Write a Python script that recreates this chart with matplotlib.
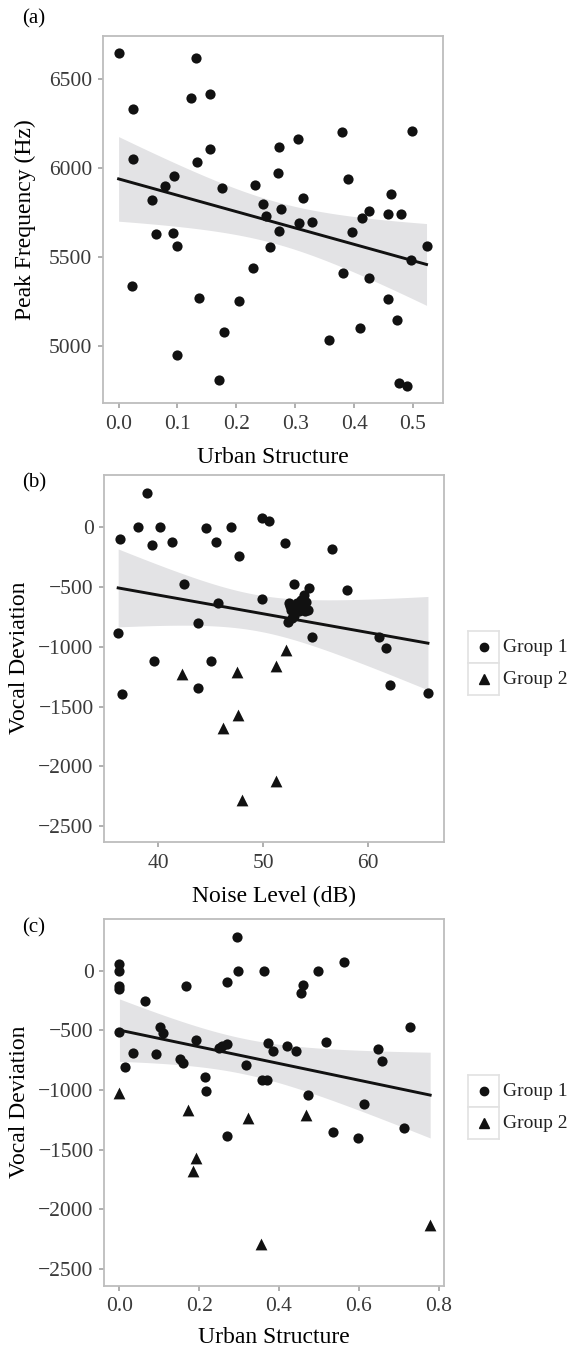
import numpy as np
import matplotlib
matplotlib.use('Agg')
import matplotlib.pyplot as plt

# ---- panel (a): urban structure vs peak frequency ----
urban_a = [0.000, 0.132, 0.024, 0.123, 0.155, 0.024, 0.155, 0.134, 0.094, 0.079,
           0.057, 0.176, 0.064, 0.093, 0.100, 0.022, 0.137, 0.099, 0.170, 0.179,
           0.205, 0.229, 0.232, 0.246, 0.250, 0.258, 0.272, 0.270, 0.276, 0.273,
           0.304, 0.307, 0.313, 0.328, 0.357, 0.379, 0.381, 0.389, 0.397, 0.413,
           0.425, 0.410, 0.425, 0.457, 0.463, 0.480, 0.458, 0.473, 0.477, 0.490,
           0.499, 0.496, 0.523]
peak_a = [6643, 6617, 6332, 6392, 6416, 6051, 6107, 6034, 5956, 5898,
          5818, 5885, 5628, 5632, 5559, 5335, 5270, 4951, 4811, 5078,
          5255, 5440, 5902, 5797, 5730, 5555, 6118, 5971, 5770, 5646,
          6163, 5693, 5831, 5695, 5035, 6204, 5410, 5939, 5639, 5719,
          5756, 5099, 5382, 5740, 5851, 5742, 5266, 5145, 4791, 4776,
          6206, 5484, 5559]

# ---- panel (b): noise level vs vocal deviation ----
noise_g1 = [38.96, 36.4, 38.1, 39.45, 40.2, 41.3, 44.6, 45.5, 46.9, 47.7,
            49.9, 50.55, 52.1, 56.6, 42.5, 45.7, 49.9, 52.9, 54.4, 58.0,
            36.2, 43.8, 45.0, 39.65, 36.6, 43.8, 54.7, 61.0, 61.7, 62.1,
            65.7, 53.9, 54.1, 53.9, 52.5, 52.7, 52.9, 52.35, 54.3, 52.6,
            53.4, 53.6, 52.8, 54.0, 53.2]
devb_g1 = [278, -100, 0, -153, 0, -125, -11, -128, 0, -247,
           69, 50, -133, -189, -475, -633, -603, -478, -514, -531,
           -889, -806, -1117, -1119, -1397, -1347, -917, -917, -1011, -1319,
           -1389, -569, -625, -667, -639, -694, -744, -792, -694, -660,
           -700, -610, -760, -700, -640]
noise_g2 = [42.3, 47.5, 51.2, 52.2, 47.6, 46.2, 51.2, 48.0]
devb_g2 = [-1228, -1208, -1158, -1031, -1569, -1681, -2125, -2281]

# ---- panel (c): urban structure vs vocal deviation ----
urban_g1 = [0.000, 0.000, 0.000, 0.000, 0.000, 0.015, 0.035, 0.063, 0.091, 0.102,
            0.110, 0.153, 0.160, 0.167, 0.192, 0.215, 0.216, 0.249, 0.258, 0.270,
            0.270, 0.295, 0.297, 0.318, 0.270, 0.358, 0.370, 0.362, 0.373, 0.386,
            0.419, 0.443, 0.460, 0.456, 0.473, 0.498, 0.518, 0.562, 0.536, 0.599,
            0.613, 0.649, 0.659, 0.713, 0.729]
devc_g1 = [56, -6, -126, -153, -511, -804, -692, -251, -698, -472,
           -527, -737, -778, -131, -580, -890, -1010, -650, -636, -614,
           -98, 279, 0, -790, -1389, -915, -915, 0, -608, -670,
           -631, -678, -123, -184, -1041, 0, -600, 72, -1353, -1401,
           -1119, -658, -762, -1322, -477]
urban_g2 = [0.000, 0.171, 0.322, 0.467, 0.191, 0.185, 0.355, 0.779]
devc_g2 = [-1027, -1166, -1239, -1211, -1571, -1682, -2291, -2132]

W, H = 568, 1347
plt.rcParams['font.family'] = ['Liberation Serif', 'DejaVu Serif']
fig = plt.figure(figsize=(W / 100, H / 100), dpi=100)


def box(l, r, t, b):
    return [l / W, 1 - b / H, (r - l) / W, (b - t) / H]


def fit_band(x, y, t=2.0076):
    # linear fit with 95% confidence band (as geom_smooth(method='lm'))
    x = np.asarray(x, float)
    y = np.asarray(y, float)
    n = len(x)
    b1, b0 = np.polyfit(x, y, 1)
    xs = np.linspace(x.min(), x.max(), 100)
    yh = b0 + b1 * xs
    s = np.sqrt(np.sum((y - (b0 + b1 * x)) ** 2) / (n - 2))
    se = s * np.sqrt(1 / n + (xs - x.mean()) ** 2 / np.sum((x - x.mean()) ** 2))
    return xs, yh, yh - t * se, yh + t * se


def style(ax):
    for sp in ax.spines.values():
        sp.set_color('#BDBDBD')
        sp.set_linewidth(1.3)
    ax.tick_params(direction='out', length=3.6, width=1.1, color='#9A9A9A',
                   labelcolor='#3A3A3A', labelsize=15.5)
    ax.tick_params(axis='x', pad=5)
    ax.tick_params(axis='y', pad=4)
    ax.set_facecolor('white')


def draw(ax, x, y, xg=None, yg=None):
    xa = list(x) + (list(xg) if xg else [])
    ya = list(y) + (list(yg) if yg else [])
    xs, yh, lo, hi = fit_band(xa, ya)
    ax.fill_between(xs, lo, hi, color='#E3E3E5', lw=0, zorder=1)
    ax.scatter(x, y, s=54, marker='o', color='#111111', lw=0, zorder=2)
    if xg:
        ax.scatter(xg, yg, s=72, marker='^', color='#111111', lw=0, zorder=2)
    ax.plot(xs, yh, color='#111111', lw=2.1, zorder=3)
    style(ax)


def legend(y1, y2):
    # key boxes with markers and labels
    for yc, m, lab, ms in [(y1, 'o', 'Group 1', 6), (y2, '^', 'Group 2', 7.5)]:
        kx = fig.add_axes(box(468, 499, yc - 16, yc + 16))
        kx.set_xlim(0, 1)
        kx.set_ylim(0, 1)
        kx.set_xticks([])
        kx.set_yticks([])
        for sp in kx.spines.values():
            sp.set_color('#E2E2E2')
            sp.set_linewidth(1.2)
        kx.plot([0.5], [0.5], marker=m, ms=ms, color='#111111', ls='none')
        fig.text(503 / W, 1 - yc / H, lab, fontsize=14, ha='left', va='center',
                 color='#222222')


# (a)
ax1 = fig.add_axes(box(102.7, 443, 35.7, 403.3))
draw(ax1, urban_a, peak_a)
ax1.set_xlim(-0.027, 0.551)
ax1.set_ylim(4679, 6742)
ax1.set_xticks([0.0, 0.1, 0.2, 0.3, 0.4, 0.5])
ax1.set_xticklabels(['0.0', '0.1', '0.2', '0.3', '0.4', '0.5'])
ax1.set_yticks([5000, 5500, 6000, 6500])

# (b)
ax2 = fig.add_axes(box(104.3, 444, 474.5, 842.3))
draw(ax2, noise_g1, devb_g1, noise_g2, devb_g2)
ax2.set_xlim(34.88, 67.23)
ax2.set_ylim(-2633, 436)
ax2.set_xticks([40, 50, 60])
ax2.set_yticks([0, -500, -1000, -1500, -2000, -2500])

# (c)
ax3 = fig.add_axes(box(104.3, 444, 919, 1285.5))
draw(ax3, urban_g1, devc_g1, urban_g2, devc_g2)
ax3.set_xlim(-0.038, 0.8137)
ax3.set_ylim(-2639, 432)
ax3.set_xticks([0.0, 0.2, 0.4, 0.6, 0.8])
ax3.set_xticklabels(['0.0', '0.2', '0.4', '0.6', '0.8'])
ax3.set_yticks([0, -500, -1000, -1500, -2000, -2500])

legend(647, 679)
legend(1091, 1123)

# axis titles and panel tags
lab = dict(fontsize=17, color='black', ha='center')
fig.text(273 / W, 1 - 463 / H, 'Urban Structure', va='baseline', **lab)
fig.text(274 / W, 1 - 902 / H, 'Noise Level (dB)', va='baseline', **lab)
fig.text(274 / W, 1 - 1343 / H, 'Urban Structure', va='baseline', **lab)
fig.text(25 / W, 1 - 220 / H, 'Peak Frequency (Hz)', rotation=90, va='center', **lab)
fig.text(20 / W, 1 - 658 / H, 'Vocal Deviation', rotation=90, va='center', **lab)
fig.text(20 / W, 1 - 1102 / H, 'Vocal Deviation', rotation=90, va='center', **lab)
tag = dict(fontsize=15, color='black', ha='left', va='center')
fig.text(22 / W, 1 - 19 / H, '(a)', **tag)
fig.text(22 / W, 1 - 483 / H, '(b)', **tag)
fig.text(22 / W, 1 - 928 / H, '(c)', **tag)

fig.savefig('out.png', dpi=100)
